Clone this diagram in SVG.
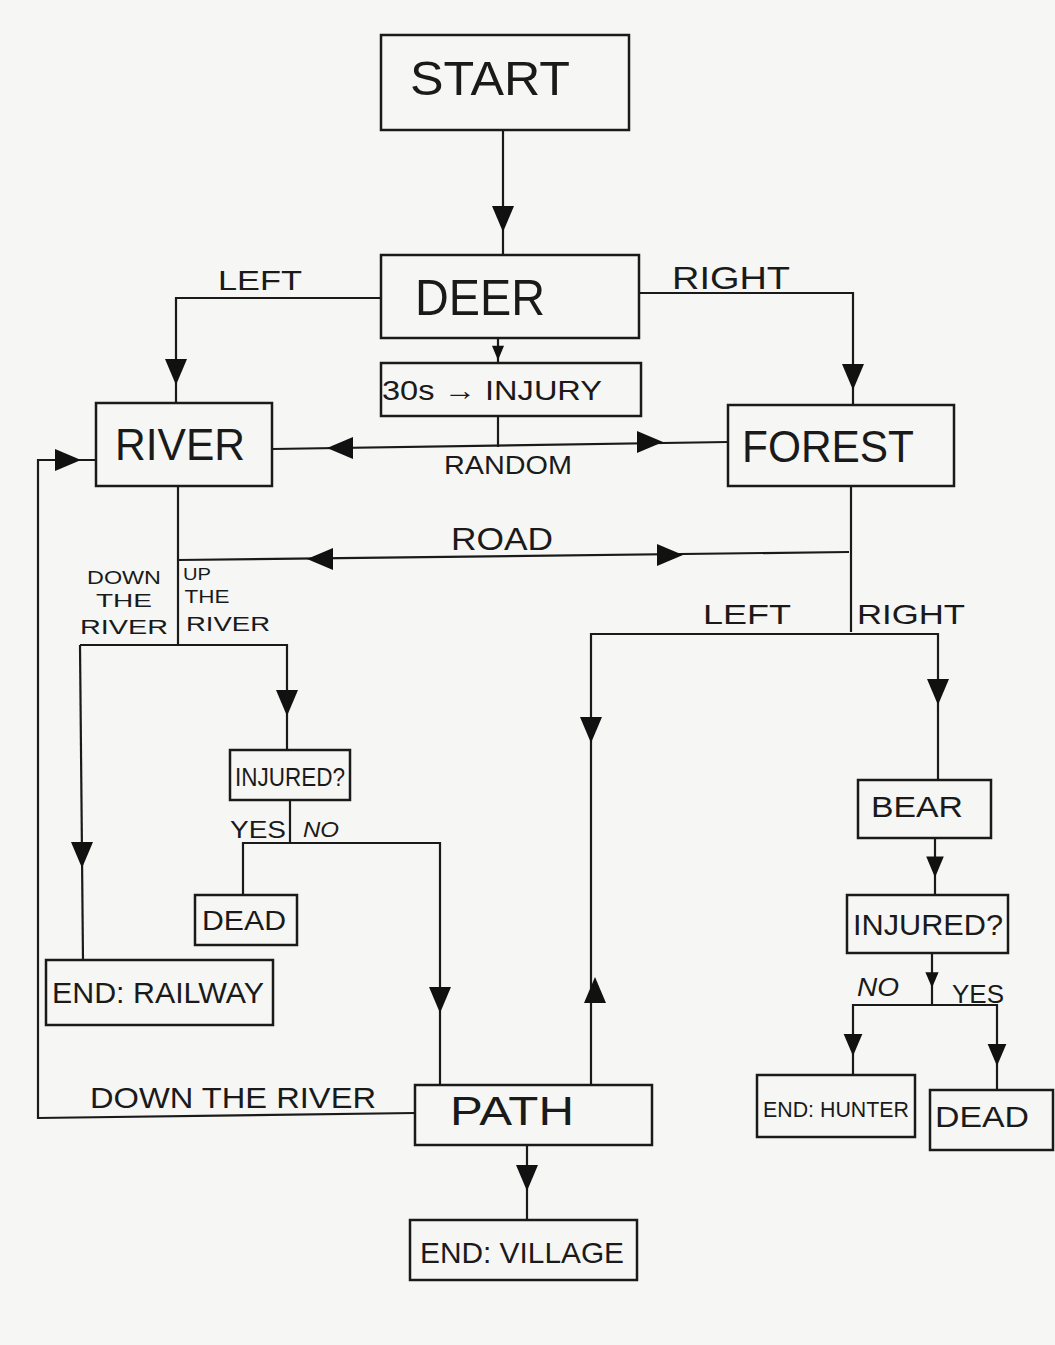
<svg xmlns="http://www.w3.org/2000/svg" width="1055" height="1345" viewBox="0 0 1055 1345">
<style>
.box{fill:none;stroke:#1a1a1a;stroke-width:2.5}
.ln{fill:none;stroke:#1a1a1a;stroke-width:2.2}
text{font-family:"Liberation Sans","DejaVu Sans",sans-serif;fill:#1a1a1a;text-anchor:middle}
.ar{fill:#111}
</style>
<defs>
<path id="ad" d="M-11,-13 L11,-13 L0,13 Z"/>
</defs>
<rect x="0" y="0" width="1055" height="1345" fill="#f6f6f4"/>

<g id="connectors">
<!-- START -> DEER -->
<path class="ln" d="M503,130 V255"/>
<use href="#ad" class="ar" transform="translate(503,219)"/>
<!-- DEER -> RIVER (LEFT) -->
<path class="ln" d="M381,298 H176 V403"/>
<use href="#ad" class="ar" transform="translate(176,372)"/>
<text x="260" y="290" font-size="28" textLength="84" lengthAdjust="spacingAndGlyphs">LEFT</text>
<!-- DEER -> FOREST (RIGHT) -->
<path class="ln" d="M639,293 H853 V405"/>
<use href="#ad" class="ar" transform="translate(853,377)"/>
<text x="731" y="289" font-size="32" textLength="118" lengthAdjust="spacingAndGlyphs">RIGHT</text>
<!-- DEER -> 30s -->
<path class="ln" d="M498,338 V363"/>
<use href="#ad" class="ar" transform="translate(498,353) scale(0.55)"/>
<!-- RANDOM -->
<path class="ln" d="M498,416 V447"/>
<path class="ln" d="M272,449 L728,442"/>
<use href="#ad" class="ar" transform="translate(340,448) rotate(90)"/>
<use href="#ad" class="ar" transform="translate(650,442) rotate(-90)"/>
<text x="508" y="474" font-size="26" textLength="128" lengthAdjust="spacingAndGlyphs">RANDOM</text>
<!-- ROAD -->
<path class="ln" d="M178,486 V645"/>
<path class="ln" d="M178,560 L849,552"/>
<path class="ln" d="M851,486 V632"/>
<use href="#ad" class="ar" transform="translate(320,559) rotate(90)"/>
<use href="#ad" class="ar" transform="translate(670,555) rotate(-90)"/>
<text x="502" y="550" font-size="32" textLength="102" lengthAdjust="spacingAndGlyphs">ROAD</text>
<!-- RIVER split -->
<path class="ln" d="M80,645 H287 V750"/>
<path class="ln" d="M80,645 L83,960"/>
<use href="#ad" class="ar" transform="translate(82,855)"/>
<use href="#ad" class="ar" transform="translate(287,703)"/>
<text x="124" y="584" font-size="19" textLength="74" lengthAdjust="spacingAndGlyphs">DOWN</text>
<text x="124" y="607" font-size="19" textLength="56" lengthAdjust="spacingAndGlyphs">THE</text>
<text x="124" y="634" font-size="21" textLength="88" lengthAdjust="spacingAndGlyphs">RIVER</text>
<text x="197" y="580" font-size="17" textLength="28" lengthAdjust="spacingAndGlyphs">UP</text>
<text x="207" y="603" font-size="19" textLength="45" lengthAdjust="spacingAndGlyphs">THE</text>
<text x="228" y="631" font-size="21" textLength="84" lengthAdjust="spacingAndGlyphs">RIVER</text>
<!-- INJURED? left split -->
<path class="ln" d="M290,800 V843"/>
<path class="ln" d="M243,895 V843 H440 V1085"/>
<use href="#ad" class="ar" transform="translate(440,1000)"/>
<text x="258" y="838" font-size="24" textLength="56" lengthAdjust="spacingAndGlyphs">YES</text>
<text x="321" y="837" font-size="22" textLength="36" lengthAdjust="spacingAndGlyphs" font-style="italic">NO</text>
<!-- FOREST split -->
<path class="ln" d="M591,1085 V634 H938 V780"/>
<use href="#ad" class="ar" transform="translate(591,730)"/>
<use href="#ad" class="ar" transform="translate(595,990) rotate(180)"/>
<use href="#ad" class="ar" transform="translate(938,692)"/>
<text x="747" y="624" font-size="28" textLength="88" lengthAdjust="spacingAndGlyphs">LEFT</text>
<text x="911" y="624" font-size="28" textLength="108" lengthAdjust="spacingAndGlyphs">RIGHT</text>
<!-- BEAR -> INJURED? -->
<path class="ln" d="M935,838 V895"/>
<use href="#ad" class="ar" transform="translate(935,867) scale(0.8)"/>
<!-- INJURED? right split -->
<path class="ln" d="M932,953 V1005"/>
<use href="#ad" class="ar" transform="translate(932,980) scale(0.6)"/>
<path class="ln" d="M853,1075 V1005 H997 V1090"/>
<use href="#ad" class="ar" transform="translate(853,1045) scale(0.85)"/>
<use href="#ad" class="ar" transform="translate(997,1055) scale(0.85)"/>
<text x="878" y="996" font-size="26" textLength="42" lengthAdjust="spacingAndGlyphs" font-style="italic">NO</text>
<text x="978" y="1003" font-size="26" textLength="52" lengthAdjust="spacingAndGlyphs">YES</text>
<!-- PATH -> RIVER (DOWN THE RIVER) -->
<path class="ln" d="M415,1113 L38,1118 V460 H96"/>
<use href="#ad" class="ar" transform="translate(68,460) rotate(-90)"/>
<text x="233" y="1108" font-size="30" textLength="286" lengthAdjust="spacingAndGlyphs">DOWN THE RIVER</text>
<!-- PATH -> END: VILLAGE -->
<path class="ln" d="M527,1145 V1220"/>
<use href="#ad" class="ar" transform="translate(527,1178)"/>
</g>

<g id="node-start"><rect class="box" x="381" y="35" width="248" height="95"/><text x="490" y="95" font-size="48" textLength="160" lengthAdjust="spacingAndGlyphs">START</text></g>
<g id="node-deer"><rect class="box" x="381" y="255" width="258" height="83"/><text x="480" y="315" font-size="50" textLength="130" lengthAdjust="spacingAndGlyphs">DEER</text></g>
<g id="node-injury"><rect class="box" x="381" y="363" width="260" height="53"/><text x="492" y="400" font-size="28" textLength="220" lengthAdjust="spacingAndGlyphs">30s → INJURY</text></g>
<g id="node-river"><rect class="box" x="96" y="403" width="176" height="83"/><text x="180" y="460" font-size="44" textLength="130" lengthAdjust="spacingAndGlyphs">RIVER</text></g>
<g id="node-forest"><rect class="box" x="728" y="405" width="226" height="81"/><text x="828" y="462" font-size="44" textLength="172" lengthAdjust="spacingAndGlyphs">FOREST</text></g>
<g id="node-injured-left"><rect class="box" x="230" y="750" width="120" height="50"/><text x="290" y="786" font-size="26" textLength="110" lengthAdjust="spacingAndGlyphs">INJURED?</text></g>
<g id="node-dead-left"><rect class="box" x="195" y="895" width="102" height="50"/><text x="244" y="930" font-size="28" textLength="84" lengthAdjust="spacingAndGlyphs">DEAD</text></g>
<g id="node-railway"><rect class="box" x="46" y="960" width="227" height="65"/><text x="158" y="1003" font-size="30" textLength="212" lengthAdjust="spacingAndGlyphs">END: RAILWAY</text></g>
<g id="node-bear"><rect class="box" x="858" y="780" width="133" height="58"/><text x="917" y="817" font-size="30" textLength="92" lengthAdjust="spacingAndGlyphs">BEAR</text></g>
<g id="node-injured-right"><rect class="box" x="847" y="895" width="161" height="58"/><text x="928" y="935" font-size="30" textLength="150" lengthAdjust="spacingAndGlyphs">INJURED?</text></g>
<g id="node-hunter"><rect class="box" x="757" y="1075" width="158" height="62"/><text x="836" y="1117" font-size="22" textLength="146" lengthAdjust="spacingAndGlyphs">END: HUNTER</text></g>
<g id="node-dead-right"><rect class="box" x="930" y="1090" width="123" height="60"/><text x="982" y="1127" font-size="30" textLength="94" lengthAdjust="spacingAndGlyphs">DEAD</text></g>
<g id="node-path"><rect class="box" x="415" y="1085" width="237" height="60"/><text x="512" y="1125" font-size="40" textLength="124" lengthAdjust="spacingAndGlyphs">PATH</text></g>
<g id="node-village"><rect class="box" x="410" y="1220" width="227" height="60"/><text x="522" y="1263" font-size="30" textLength="204" lengthAdjust="spacingAndGlyphs">END: VILLAGE</text></g>
</svg>
